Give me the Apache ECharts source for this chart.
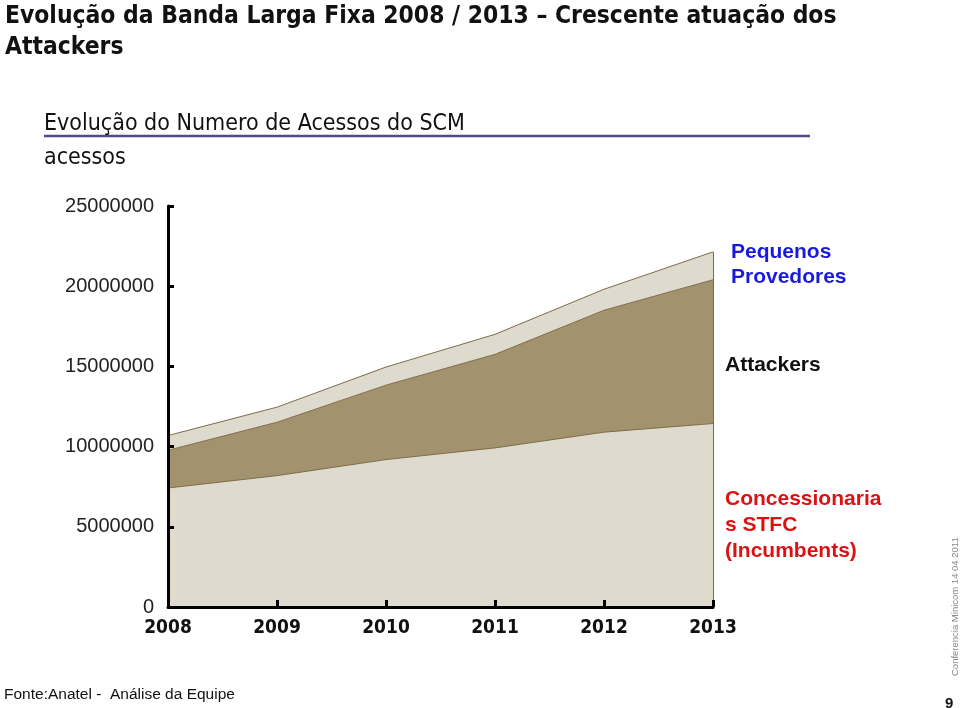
<!DOCTYPE html>
<html>
<head>
<meta charset="utf-8">
<script src="https://cdn.jsdelivr.net/npm/echarts@6/dist/echarts.min.js"></script>
<style>html,body{margin:0;padding:0;background:#fff}#c{width:960px;height:708px}</style>
</head>
<body>
<div id="c"></div>
<script>
var years = ['2008', '2009', '2010', '2011', '2012', '2013'];
var concessionarias = [7420000, 8190000, 9190000, 9920000, 10900000, 11440000];
var attackers = [2350000, 3330000, 4640000, 5830000, 7600000, 8960000];
var pequenos = [920000, 940000, 1130000, 1250000, 1310000, 1740000];
var yTicks = [0, 5000000, 10000000, 15000000, 20000000, 25000000];

var narrow = "'Liberation Sans Narrow', 'DejaVu Sans Condensed', sans-serif";
var arial = "Arial, 'Liberation Sans', sans-serif";
var chart = echarts.init(document.getElementById('c'), null, {renderer: 'canvas'});
var lineStyle = {color: '#7d6c48', width: 1};
chart.setOption({
  animation: false,
  backgroundColor: '#ffffff',
  title: [
    {text: 'Evolução da Banda Larga Fixa 2008 / 2013 – Crescente atuação dos\nAttackers', left: 5, top: 1, padding: 0,
     textStyle: {fontFamily: narrow, fontWeight: 'bold', fontSize: 24.4, color: '#111', lineHeight: 31}},
    {text: 'Evolução do Numero de Acessos do SCM', left: 44, top: 113, padding: 0,
     textStyle: {fontFamily: narrow, fontWeight: 'normal', fontSize: 23, color: '#111'}},
    {text: 'acessos', left: 44, top: 147, padding: 0,
     textStyle: {fontFamily: narrow, fontWeight: 'normal', fontSize: 23, color: '#111'}},
    {text: 'Fonte:Anatel -  Análise da Equipe', left: 4, top: 687, padding: 0,
     textStyle: {fontFamily: arial, fontWeight: 'normal', fontSize: 15.5, color: '#111'}},
    {text: 'Pequenos\nProvedores', left: 731, top: 240, padding: 0,
     textStyle: {fontFamily: arial, fontWeight: 'bold', fontSize: 21, color: '#1a1adc', lineHeight: 25}},
    {text: 'Attackers', left: 725, top: 353, padding: 0,
     textStyle: {fontFamily: arial, fontWeight: 'bold', fontSize: 21, color: '#111', lineHeight: 25}},
    {text: 'Concessionaria\ns STFC\n(Incumbents)', left: 725, top: 486, padding: 0,
     textStyle: {fontFamily: arial, fontWeight: 'bold', fontSize: 21, color: '#dd1111', lineHeight: 26}},
    {text: '9', left: 945, top: 696, padding: 0,
     textStyle: {fontFamily: arial, fontWeight: 'bold', fontSize: 15, color: '#111'}}
  ],
  graphic: [
    {type: 'line', shape: {x1: 44, y1: 136, x2: 810, y2: 136}, style: {stroke: '#4b4b8c', lineWidth: 2.5}},
    {type: 'text', x: 960, y: 676, rotation: Math.PI / 2,
     style: {text: 'Conferencia Minicom 14 04 2011', fill: '#888', font: '9.5px Arial, Liberation Sans, sans-serif', textAlign: 'left', textVerticalAlign: 'bottom'}}
  ],
  grid: {left: 168, right: 247, top: 206, bottom: 101, containLabel: false},
  xAxis: {
    type: 'category', data: years, boundaryGap: false, z: 10,
    axisLine: {lineStyle: {color: '#000', width: 3}},
    axisTick: {inside: true, length: 7, lineStyle: {color: '#000', width: 3}, alignWithLabel: true},
    axisLabel: {fontFamily: "'DejaVu Sans Condensed', sans-serif", fontWeight: 'bold', fontSize: 19, color: '#111', margin: 12}
  },
  yAxis: {
    type: 'value', min: 0, max: 25000000, interval: 5000000, z: 10,
    splitLine: {show: false},
    axisLine: {show: true, lineStyle: {color: '#000', width: 3}},
    axisTick: {show: true, inside: true, length: 6, lineStyle: {color: '#000', width: 3}},
    axisLabel: {fontFamily: arial, fontSize: 20, color: '#222', margin: 14,
      formatter: function (v) { return yTicks.indexOf(v) >= 0 ? String(v) : ''; }}
  },
  series: [
    {name: 'Concessionarias STFC (Incumbents)', type: 'line', stack: 't', data: concessionarias, symbol: 'none',
     lineStyle: lineStyle, areaStyle: {color: '#dedace', opacity: 1}, z: 2},
    {name: 'Attackers', type: 'line', stack: 't', data: attackers, symbol: 'none',
     lineStyle: lineStyle, areaStyle: {color: '#a2936e', opacity: 1}, z: 2},
    {name: 'Pequenos Provedores', type: 'line', stack: 't', data: pequenos, symbol: 'none',
     lineStyle: lineStyle, areaStyle: {color: '#dedace', opacity: 1}, z: 2},
    {type: 'line', data: [null, null, null, null, null, 0], symbol: 'none', silent: true,
     markLine: {silent: true, symbol: 'none', label: {show: false}, lineStyle: {color: '#7d6c48', width: 1, type: 'solid'},
       data: [[{coord: ['2013', 0]}, {coord: ['2013', concessionarias[5] + attackers[5] + pequenos[5]]}]]}}
  ]
});
</script>
</body>
</html>
